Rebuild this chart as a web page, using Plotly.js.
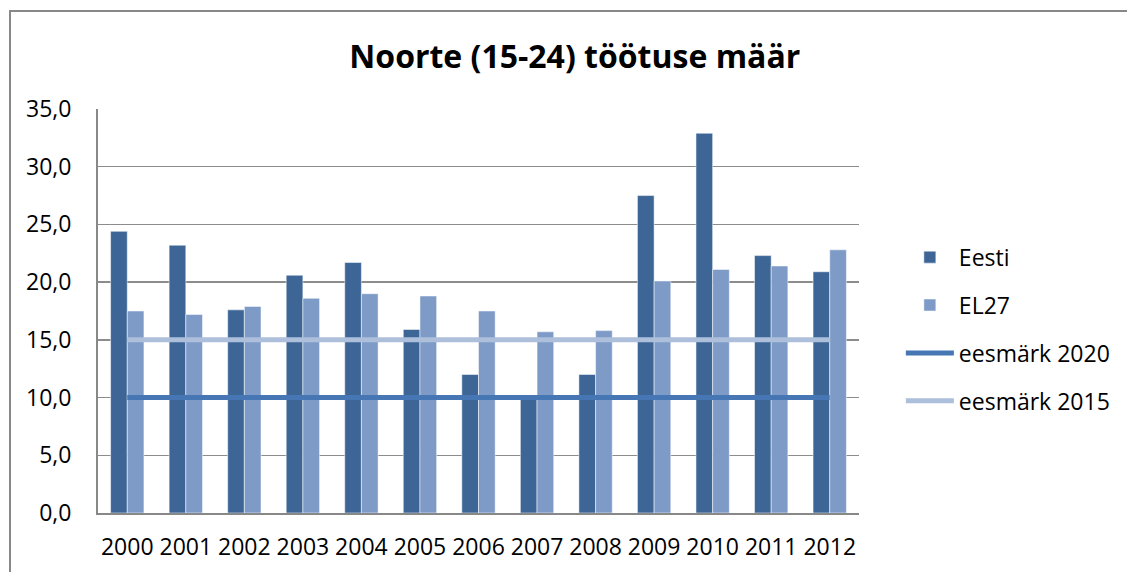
<!DOCTYPE html>
<html>
<head>
<meta charset="utf-8">
<script src="https://cdn.plot.ly/plotly-3.0.1.min.js"></script>
<style>
  html, body { margin: 0; padding: 0; width: 1127px; height: 572px; overflow: hidden; background: #fff; }
  #frame { position: absolute; left: 9px; top: 10px; width: 1200px; height: 700px; border: 2px solid #888888; box-sizing: border-box; }
  #chart { position: absolute; left: 0; top: 0; width: 1127px; height: 572px; }
</style>
</head>
<body>
<div id="frame"></div>
<div id="chart"></div>
<script>
const years = ["2000","2001","2002","2003","2004","2005","2006","2007","2008","2009","2010","2011","2012"];
const eesti = [24.4, 23.2, 17.6, 20.6, 21.7, 15.9, 12.0, 10.0, 12.0, 27.5, 32.9, 22.3, 20.9];
const el27  = [17.5, 17.2, 17.9, 18.6, 19.0, 18.8, 17.5, 15.7, 15.8, 20.1, 21.1, 21.4, 22.8];
const eesmark2020 = [10, 10, 10, 10, 10, 10, 10, 10, 10, 10, 10, 10, 10];
const eesmark2015 = [15, 15, 15, 15, 15, 15, 15, 15, 15, 15, 15, 15, 15];
const yTicks = [0, 5, 10, 15, 20, 25, 30, 35];

const FONT = "'Open Sans', 'Noto Sans', sans-serif";

const traces = [
  { type: 'bar', name: 'Eesti', x: years, y: eesti, legendgroup: 'a',
    marker: { color: '#3D6697', line: { color: 'rgba(255,255,255,0.5)', width: 1 } } },
  { type: 'bar', name: 'EL27', x: years, y: el27, legendgroup: 'b',
    marker: { color: '#7E9BC8', line: { color: 'rgba(255,255,255,0.5)', width: 1 } } },
  { type: 'scatter', mode: 'lines', name: 'eesmärk 2020', x: years, y: eesmark2020, legendgroup: 'c',
    line: { color: '#4676B3', width: 5, shape: 'linear' } },
  { type: 'scatter', mode: 'lines', name: 'eesmärk 2015', x: years, y: eesmark2015, legendgroup: 'd',
    line: { color: '#ADBFDA', width: 5 } }
];

const layout = {
  width: 1127, height: 572,
  paper_bgcolor: 'rgba(0,0,0,0)',
  plot_bgcolor: 'rgba(0,0,0,0)',
  margin: { l: 98, r: 265, t: 109, b: 59, pad: 0 },
  separators: ', ',
  font: { family: FONT, size: 23, color: '#000' },
  title: {
    text: '<b>Noorte (15-24) töötuse määr</b>',
    font: { family: FONT, size: 32, color: '#000' },
    xref: 'container', x: 0.51, xanchor: 'center',
    yref: 'container', y: 0.9, yanchor: 'middle'
  },
  barmode: 'group',
  bargap: 0.43,
  bargroupgap: 0,
  xaxis: {
    type: 'category',
    showgrid: false,
    showline: true, linecolor: '#888888', linewidth: 2,
    ticks: '', tickfont: { family: FONT, size: 23, color: '#000' },
    ticklabelstandoff: 12
  },
  yaxis: {
    range: [0, 35],
    tickvals: yTicks,
    tickformat: '.1f',
    showgrid: true, gridcolor: '#8c8c8c', gridwidth: 1.5,
    showline: true, linecolor: '#888888', linewidth: 2,
    zeroline: false,
    ticks: '', tickfont: { family: FONT, size: 23, color: '#000' },
    ticklabelstandoff: 20
  },
  showlegend: true,
  legend: {
    x: 1.055, xanchor: 'left', y: 0.455, yanchor: 'middle',
    font: { family: FONT, size: 23, color: '#000' },
    tracegroupgap: 15,
    traceorder: 'grouped',
    bgcolor: 'rgba(0,0,0,0)',
    itemwidth: 48
  }
};

Plotly.newPlot('chart', traces, layout, { staticPlot: true, displayModeBar: false });
</script>
</body>
</html>
